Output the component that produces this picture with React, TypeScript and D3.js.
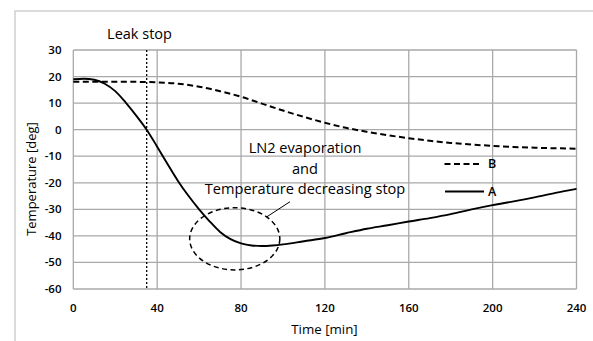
import React from "react";
import * as d3 from "d3";

const timeA = [0, 5, 10, 15, 20, 25, 30, 35, 40, 45, 50, 55, 60, 65, 70, 75, 80, 85, 90, 95, 100, 110, 120, 130, 140, 150, 160, 170, 180, 190, 200, 210, 220, 230, 240];
const seriesA = [19, 19.2, 18.8, 17.3, 14.5, 10.2, 5.3, 0, -6.4, -13, -19.4, -25, -30, -34.5, -38.5, -41.2, -42.8, -43.6, -43.8, -43.6, -43.2, -42, -40.8, -39, -37.3, -36, -34.6, -33.3, -31.8, -30, -28.4, -27, -25.5, -23.8, -22.3];
const timeB = [0, 10, 20, 30, 40, 50, 60, 70, 80, 90, 100, 110, 120, 130, 140, 150, 160, 170, 180, 190, 200, 210, 220, 230, 240];
const seriesB = [18, 18, 18, 18, 17.8, 17.3, 16.2, 14.5, 12.4, 9.8, 7.2, 4.8, 2.6, 0.7, -0.8, -2.1, -3.2, -4.2, -5, -5.6, -6.1, -6.5, -6.8, -7.0, -7.2];
const xTicks = [0, 40, 80, 120, 160, 200, 240];
const yTicks = [30, 20, 10, 0, -10, -20, -30, -40, -50, -60];
const leakStopTime = 35;
const ellipseCenter = { t: 77, v: -41.1 };
const ellipseRadius = { t: 21.5, v: 11.7 };
const annotationLines = ["LN2 evaporation", "and", "Temperature decreasing stop"];

export default function App() {
  const W = 593, H = 341;
  const left = 73.3, right = 576.5, top = 50, bottom = 289;
  const x = d3.scaleLinear().domain([0, 240]).range([left, right]);
  const y = d3.scaleLinear().domain([-60, 30]).range([bottom, top]);
  const lineGen = d3.line<[number, number]>().x(d => x(d[0])).y(d => y(d[1])).curve(d3.curveMonotoneX);
  const pathA = lineGen(timeA.map((t, i) => [t, seriesA[i]]) as [number, number][]) || "";
  const pathB = lineGen(timeB.map((t, i) => [t, seriesB[i]]) as [number, number][]) || "";
  const font = "'Open Sans', sans-serif";
  const grid = "#a9a9a9";
  const ecx = x(ellipseCenter.t), ecy = y(ellipseCenter.v);
  const erx = x(ellipseCenter.t + ellipseRadius.t) - ecx;
  const ery = ecy - y(ellipseCenter.v + ellipseRadius.v);
  return (
    <svg width={W} height={H} style={{ position: "absolute", left: 0, top: 0 }}>
      <rect x={0} y={0} width={W} height={H} fill="#fff" />
      <rect x={15} y={11} width={W} height={H} fill="none" stroke="#cfcfcf" strokeWidth={1.5} />
      {yTicks.map(v => (
        <line key={"gy" + v} x1={left} x2={right} y1={y(v)} y2={y(v)} stroke={grid} strokeWidth={1.3} />
      ))}
      {xTicks.map(t => (
        <line key={"gx" + t} x1={x(t)} x2={x(t)} y1={top} y2={bottom} stroke={grid} strokeWidth={1.3} />
      ))}
      <line x1={x(leakStopTime)} x2={x(leakStopTime)} y1={top} y2={bottom} stroke="#000" strokeWidth={1.3} strokeDasharray="2,2" />
      <path d={pathB} fill="none" stroke="#000" strokeWidth={2} strokeDasharray="6,3.5" />
      <path d={pathA} fill="none" stroke="#000" strokeWidth={1.9} />
      <ellipse cx={ecx} cy={ecy} rx={erx} ry={ery} fill="none" stroke="#000" strokeWidth={1.5} strokeDasharray="5,3.5" />
      <line x1={267} y1={216.7} x2={290} y2={201.7} stroke="#000" strokeWidth={1} />
      {yTicks.map(v => (
        <text key={"ty" + v} x={61.5} y={y(v)} dy="0.35em" textAnchor="end" fontFamily={font} fontWeight={600} fontSize={11.5} fill="#000">{v}</text>
      ))}
      {xTicks.map(t => (
        <text key={"tx" + t} x={x(t)} y={307.5} dy="0.35em" textAnchor="middle" fontFamily={font} fontWeight={600} fontSize={11.5} fill="#000">{t}</text>
      ))}
      <text x={324.5} y={329} dy="0.35em" textAnchor="middle" fontFamily={font} fontWeight={500} fontSize={13.3} fill="#000">Time [min]</text>
      <text transform="translate(31.5,179) rotate(-90)" dy="0.35em" textAnchor="middle" fontFamily={font} fontWeight={500} fontSize={13} fill="#000">Temperature [deg]</text>
      <text x={139.5} y={39} textAnchor="middle" fontFamily={font} fontWeight={500} fontSize={14.5} fill="#000">Leak stop</text>
      {annotationLines.map((s, i) => (
        <text key={s} x={305} y={153 + i * 20.5} textAnchor="middle" fontFamily={font} fontWeight={500} fontSize={14.6} fill="#000">{s}</text>
      ))}
      <line x1={444.5} x2={482} y1={164} y2={164} stroke="#000" strokeWidth={2} strokeDasharray="6,3.5" />
      <text x={488} y={164} dy="0.35em" fontFamily={font} fontWeight={600} fontSize={12.5} fill="#000">B</text>
      <line x1={445} x2={484} y1={191.5} y2={191.5} stroke="#000" strokeWidth={1.9} />
      <text x={488} y={191.5} dy="0.35em" fontFamily={font} fontWeight={600} fontSize={12.5} fill="#000">A</text>
    </svg>
  );
}
